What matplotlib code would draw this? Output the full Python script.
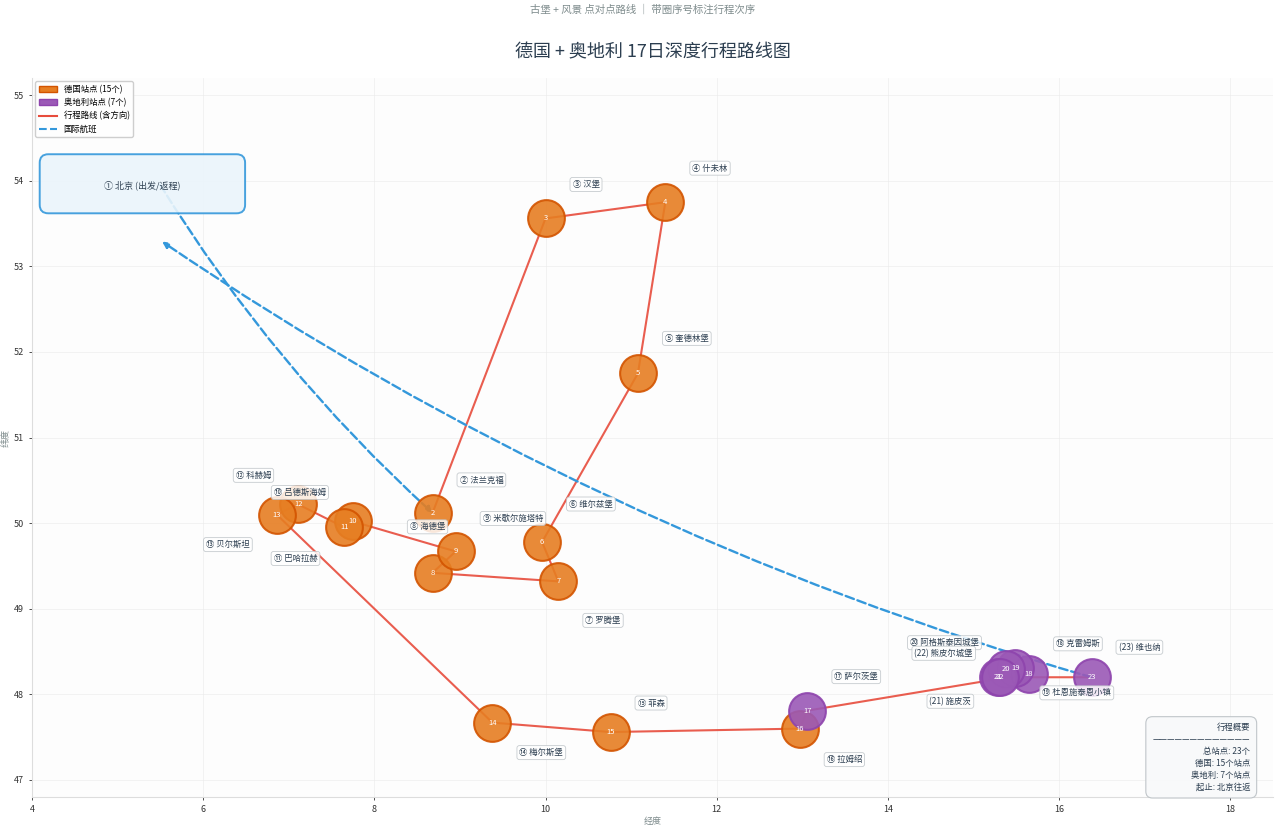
import matplotlib
matplotlib.use('Agg')
import matplotlib.pyplot as plt
from matplotlib.patches import FancyBboxPatch, FancyArrowPatch, Patch
from matplotlib.lines import Line2D

plt.rcParams['font.family'] = ['Noto Sans CJK SC', 'DejaVu Sans']
plt.rcParams['axes.unicode_minus'] = False

# ---------------- data ----------------
stop_ids = list(range(2, 24))
stop_names = ["法兰克福", "汉堡", "什未林", "奎德林堡", "维尔兹堡", "罗腾堡", "海德堡",
              "米歇尔施塔特", "吕德斯海姆", "巴哈拉赫", "科赫姆", "贝尔斯坦", "梅尔斯堡",
              "菲森", "拉姆绍", "萨尔茨堡", "克雷姆斯", "杜恩施泰恩小镇", "阿格斯泰因城堡",
              "施皮茨", "熊皮尔城堡", "维也纳"]
stop_lon = [8.68, 10.00, 11.40, 11.08, 9.96, 10.15, 8.68, 8.95, 7.75, 7.65, 7.11, 6.86,
            9.38, 10.76, 12.97, 13.06, 15.65, 15.49, 15.38, 15.29, 15.31, 16.38]
stop_lat = [50.12, 53.56, 53.75, 51.75, 49.78, 49.32, 49.42, 49.67, 50.02, 49.95, 50.22,
            50.10, 47.67, 47.56, 47.60, 47.81, 48.24, 48.31, 48.30, 48.20, 48.20, 48.20]
stop_country = ["德国"] * 15 + ["奥地利"] * 7

beijing_name = "北京 (出发/返程)"
beijing_lon, beijing_lat = 5.29, 53.965          # label position of Beijing
outbound_lon, outbound_lat = 5.50, 53.95         # departure point of outbound flight
return_lon, return_lat = 5.52, 53.29             # arrival point of return flight

summary_lines = ["行程概要", "总站点: 23个", "德国: 15个站点", "奥地利: 7个站点", "起止: 北京往返"]

# label offsets (pixels: dx, dy screen-down, alignment)
label_offsets = [(27, -33, 'left'), (27, -34, 'left'), (27, -34, 'left'), (27, -35, 'left'),
                 (27, -38, 'left'), (27, 39, 'left'), (-5, -46, 'center'), (27, -33, 'left'),
                 (-27, -29, 'right'), (-27, 31, 'right'), (-27, -29, 'right'), (-27, 30, 'right'),
                 (27, 30, 'left'), (27, -29, 'left'), (27, 31, 'left'), (27, -34, 'left'),
                 (27, -30, 'left'), (27, 25, 'left'), (-27, -26, 'right'), (-27, 24, 'right'),
                 (-27, -24, 'right'), (27, -30, 'left')]

colors = {"德国": ("#E67E22", "#D35400"), "奥地利": ("#9B59B6", "#8E44AD")}
route_color = "#E74C3C"
flight_color = "#3498DB"

# ---------------- figure ----------------
fig = plt.figure(figsize=(12.8, 8.26), dpi=100)
ax = fig.add_axes([0.025, 0.035, 0.9695, 0.8705])
ax.set_facecolor('#FDFDFD')
ax.set_xlim(4, 18.5)
ax.set_ylim(46.8, 55.2)
ax.set_xticks(range(4, 19, 2))
ax.set_yticks(range(47, 56))
ax.tick_params(labelsize=6.5, colors='#333333', length=2.5, width=0.6)
ax.grid(True, color='#EBEBEB', lw=0.6, alpha=0.7)
ax.set_axisbelow(True)
for s in ['top', 'right']:
    ax.spines[s].set_visible(False)
for s in ['left', 'bottom']:
    ax.spines[s].set_color('#DDDDDD')
ax.set_xlabel("经度", fontsize=6.5, color='#7F8C8D', labelpad=2)
ax.set_ylabel("纬度", fontsize=6.5, color='#7F8C8D', labelpad=2)

# route
ax.plot(stop_lon, stop_lat, color=route_color, lw=1.5, alpha=0.9, zorder=2, solid_capstyle='round')

# flights
arr1 = FancyArrowPatch((outbound_lon, outbound_lat), (stop_lon[0], stop_lat[0]),
                       connectionstyle='arc3,rad=0.07', arrowstyle='-|>', mutation_scale=9,
                       color=flight_color, lw=1.7, linestyle='--', shrinkA=0, shrinkB=0, zorder=2)
arr2 = FancyArrowPatch((stop_lon[-1], stop_lat[-1]), (return_lon, return_lat),
                       connectionstyle='arc3,rad=-0.08', arrowstyle='-|>', mutation_scale=9,
                       color=flight_color, lw=1.7, linestyle='--', shrinkA=0, shrinkB=0, zorder=2)
ax.add_patch(arr1)
ax.add_patch(arr2)

# Beijing box
bw, bh = 2.40, 0.69
bj = FancyBboxPatch((beijing_lon - bw / 2, beijing_lat - bh / 2), bw, bh,
                    boxstyle='round,pad=0,rounding_size=0.1', fc='#EBF5FB', ec=flight_color,
                    lw=1.4, alpha=0.9, zorder=3)
ax.add_patch(bj)
ax.text(beijing_lon, beijing_lat - 0.02, "① " + beijing_name, ha='center', va='center',
        fontsize=6.5, color='#2C3E50', zorder=4)

# stations
for i, (n, x, y, c) in enumerate(zip(stop_ids, stop_lon, stop_lat, stop_country)):
    fc, ec = colors[c]
    ax.scatter([x], [y], s=700, c=fc, edgecolors=ec, linewidths=1.5, alpha=0.9, zorder=5)
    ax.text(x, y, str(n), ha='center', va='center', fontsize=5.5, color='white', zorder=6)

# labels
for n, name, x, y, (dx, dy, ha) in zip(stop_ids, stop_names, stop_lon, stop_lat, label_offsets):
    prefix = chr(0x2460 + n - 1) if n <= 20 else f"({n})"
    ax.annotate(f"{prefix} {name}", xy=(x, y), xytext=(dx * 0.72, -dy * 0.72),
                textcoords='offset points', ha=ha, va='center', fontsize=6,
                color='#2C3E50', zorder=7,
                bbox=dict(boxstyle='round,pad=0.3', fc='white', ec='#BDC3C7', lw=0.6, alpha=0.85))

# legend
handles = [Patch(fc=colors["德国"][0], ec=colors["德国"][1], label=f"德国站点 ({stop_country.count('德国')}个)"),
           Patch(fc=colors["奥地利"][0], ec=colors["奥地利"][1], label=f"奥地利站点 ({stop_country.count('奥地利')}个)"),
           Line2D([], [], color=route_color, lw=1.5, label="行程路线 (含方向)"),
           Line2D([], [], color=flight_color, lw=1.5, ls='--', label="国际航班")]
leg = ax.legend(handles=handles, loc='upper left', fontsize=6, frameon=True, fancybox=True,
                framealpha=0.95, edgecolor='#CCCCCC', borderaxespad=0.4, handlelength=2.2)
leg.set_zorder(10)

# summary box
summary = summary_lines[0] + "\n" + "—" * 13 + "\n" + "\n".join(summary_lines[1:])
ax.text(0.9815, 0.008, summary, transform=ax.transAxes, ha='right', va='bottom', fontsize=6,
        color='#2C3E50', linespacing=1.4, zorder=10,
        bbox=dict(boxstyle='round,pad=0.8', fc='#F8F9FA', ec='#BDC3C7', lw=0.8, alpha=0.95))

# titles
fig.text(0.51, 0.936, "德国 + 奥地利 17日深度行程路线图", ha='center', va='center',
         fontsize=13, color='#2C3E50')
fig.text(0.502, 0.988, "古堡 + 风景 点对点路线 ｜ 带圈序号标注行程次序", ha='center', va='center',
         fontsize=7.5, color='#7F8C8D')

fig.savefig('out.png', dpi=100)
